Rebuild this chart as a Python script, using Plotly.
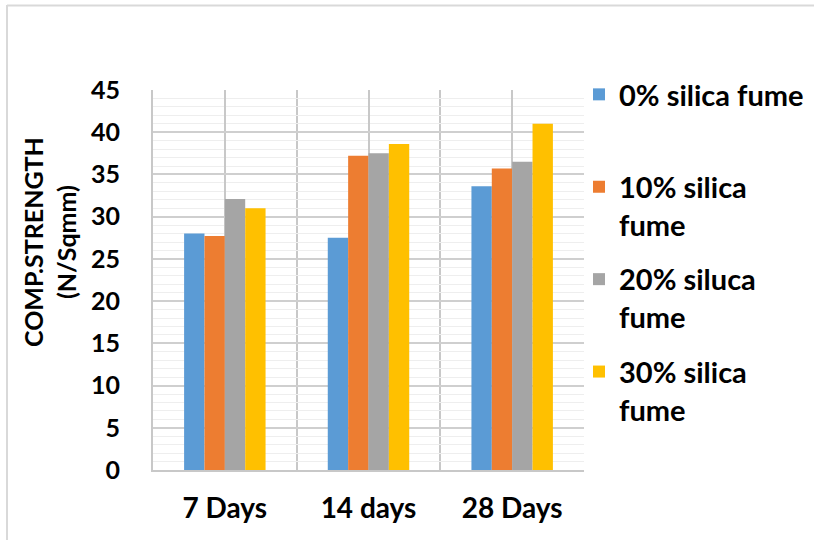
import plotly.graph_objects as go

categories = ["7 Days", "14 days", "28 Days"]
series_names = ["0% silica fume<br> ", "10% silica<br>fume", "20% siluca<br>fume", "30% silica<br>fume"]
s0 = [28.0, 27.5, 33.6]
s10 = [27.7, 37.2, 35.7]
s20 = [32.1, 37.5, 36.5]
s30 = [31.0, 38.6, 41.0]
colors = ["#5B9BD5", "#ED7D31", "#A5A5A5", "#FFC000"]
y_ticks = [0, 5, 10, 15, 20, 25, 30, 35, 40, 45]

FONT = "Lato"
xpos = list(range(len(categories)))

fig = go.Figure()
for i, (name, vals) in enumerate(zip(series_names, [s0, s10, s20, s30])):
    fig.add_trace(go.Bar(x=xpos, y=vals, name=name, marker=dict(color=colors[i], line=dict(width=0)),
                         legendgroup=f"g{i}"))

L, R, T, B = 153, 230, 90, 70
W, H = 814, 540
pw, ph = W - L - R, H - T - B

def px_x(p):
    return (p - L) / pw

def px_y(p):
    return (H - B - p) / ph

fig.update_layout(
    width=W, height=H,
    margin=dict(l=L, r=R, t=T, b=B, pad=0, autoexpand=False),
    paper_bgcolor="white", plot_bgcolor="white",
    barmode="group", bargap=0.433, bargroupgap=0,
    font=dict(family=FONT, color="black"),
    legend=dict(x=px_x(579), y=px_y(69), xanchor="left", yanchor="top",
                font=dict(family=FONT, size=29, color="black", weight="bold"),
                valign="top", tracegroupgap=14, itemsizing="constant",
                maxheight=470,
                bgcolor="rgba(0,0,0,0)"),
    xaxis=dict(range=[-0.5, len(categories) - 0.5], tickvals=xpos, ticktext=categories,
               showgrid=True, gridcolor="#c8c8c8", gridwidth=1.5,
               minor=dict(tickvals=[-0.5, 0.5, 1.5, 2.5], showgrid=True, gridcolor="#c8c8c8", gridwidth=1.5),
               showline=True, linecolor="#c8c8c8", linewidth=2, mirror=False,
               ticks="", zeroline=False, fixedrange=True,
               tickfont=dict(family=FONT, size=28, color="black", weight="bold"),
               ticklabelstandoff=12),
    yaxis=dict(range=[0, 45], tickvals=y_ticks,
               showgrid=True, gridcolor="#cfcfcf", gridwidth=1.5,
               minor=dict(dtick=1, showgrid=True, gridcolor="#eeeeee", gridwidth=1),
               showline=True, linecolor="#c8c8c8", linewidth=2,
               ticks="", zeroline=False,
               tickfont=dict(family=FONT, size=25, color="black", weight="bold"),
               ticklabelstandoff=26),
    showlegend=True,
)

fig.add_annotation(text="COMP.STRENGTH<br>(N/Sqmm)", xref="paper", yref="paper",
                   x=px_x(49), y=px_y(242), xanchor="center", yanchor="middle",
                   textangle=-90, showarrow=False,
                   font=dict(family=FONT, size=25, color="black", weight="bold"))

# outer chart border (top and left edges visible)
fig.add_shape(type="line", xref="paper", yref="paper", x0=px_x(7), x1=px_x(814), y0=px_y(5.5), y1=px_y(5.5),
              line=dict(color="#d9d9d9", width=2))
fig.add_shape(type="line", xref="paper", yref="paper", x0=px_x(7), x1=px_x(7), y0=px_y(5), y1=px_y(540),
              line=dict(color="#d9d9d9", width=2))

fig.write_html("out.html")
